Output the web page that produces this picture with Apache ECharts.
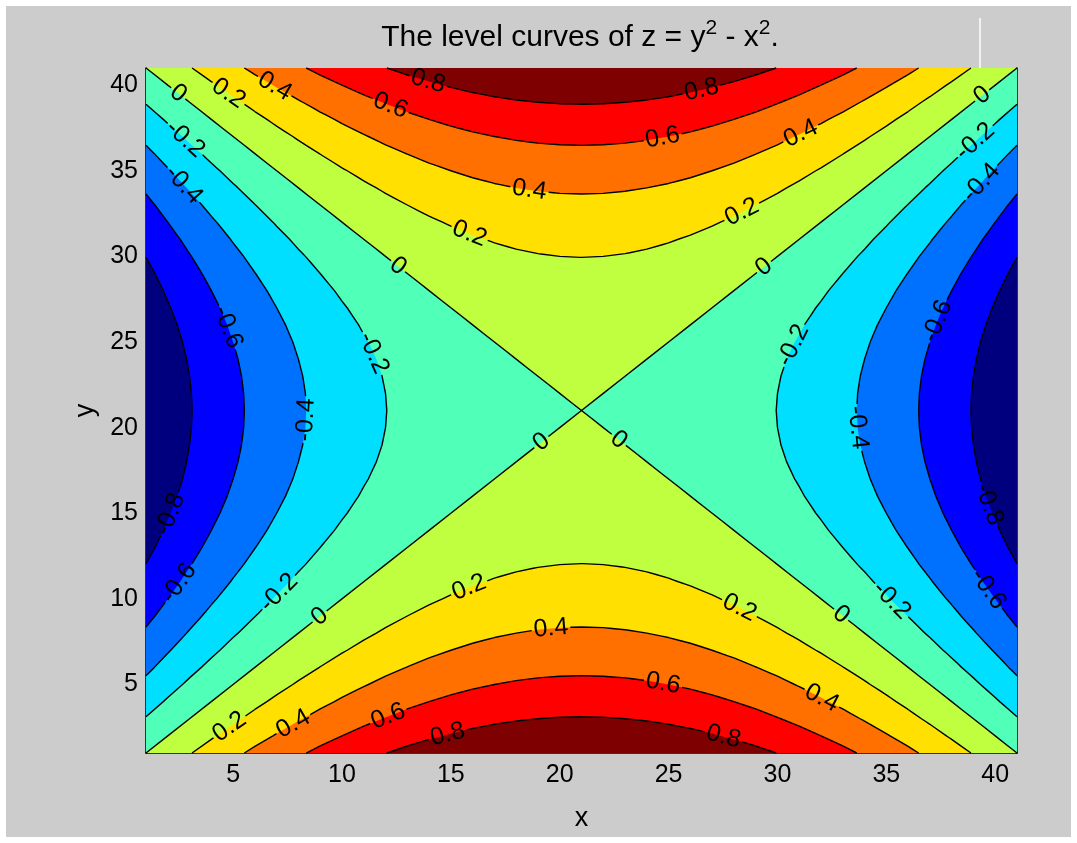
<!DOCTYPE html>
<html>
<head>
<meta charset="utf-8">
<title>Level curves of z = y^2 - x^2</title>
<script src="https://cdn.jsdelivr.net/npm/echarts@6/dist/echarts.min.js"></script>
<style>
  html, body { margin: 0; padding: 0; background: #ffffff; }
  #chart { width: 1077px; height: 843px; }
</style>
</head>
<body>
<div id="chart"></div>
<script>
// Sample coordinates of the surface (same for x and y); plotted on index axes 1..41
const gridCoords = [
  -1, -0.95, -0.9, -0.85, -0.8, -0.75, -0.7, -0.65, -0.6, -0.55,
  -0.5, -0.45, -0.4, -0.35, -0.3, -0.25, -0.2, -0.15, -0.1, -0.05,
  0,
  0.05, 0.1, 0.15, 0.2, 0.25, 0.3, 0.35, 0.4, 0.45, 0.5,
  0.55, 0.6, 0.65, 0.7, 0.75, 0.8, 0.85, 0.9, 0.95, 1
];
const indexTicks = [5, 10, 15, 20, 25, 30, 35, 40];
const contourLevels = [-0.8, -0.6, -0.4, -0.2, 0, 0.2, 0.4, 0.6, 0.8];
const bandColors = ['#00007f', '#0000ff', '#0070ff', '#00dfff', '#50ffb8',
                    '#bfff40', '#ffe000', '#ff7000', '#ff0000', '#7f0000'];
// Inline contour labels: [level, x index, y index]
const labelAnchors = [
  [0, 2.38, 39.42], [0.2, 4.76, 39.48], [0.4, 6.83, 39.83], [0.8, 13.94, 40.18],
  [0.6, 12.19, 38.72], [0.4, 18.61, 33.88], [0.2, 15.82, 31.25], [0, 12.47, 29.32],
  [0.8, 26.55, 39.6], [0.6, 24.76, 36.8], [0.4, 31.05, 37.2], [0.2, 28.29, 32.71],
  [0, 29.44, 29.32], [0, 39.44, 39.36], [-0.2, 39.12, 36.68], [-0.4, 39.3, 34.34],
  [-0.2, 2.74, 36.8], [-0.4, 2.7, 34.17], [-0.6, 4.62, 25.82], [-0.2, 11.28, 24.3],
  [-0.4, 8.43, 20.45], [-0.6, 37.47, 26.17], [-0.2, 30.82, 24.77], [-0.4, 33.43, 19.98],
  [0, 19.21, 19.1], [0, 22.65, 19.22], [-0.8, 2.24, 14.9], [-0.8, 39.53, 15.48],
  [-0.6, 2.7, 10.81], [-0.6, 39.49, 10.46], [-0.2, 7.42, 10.11], [0, 9.12, 8.82],
  [0.2, 15.91, 10.52], [0.4, 19.62, 8.07], [0.2, 28.29, 9.53], [-0.2, 34.9, 9.64],
  [0, 32.79, 8.94], [0.6, 24.72, 4.97], [0.4, 31.96, 4.09], [0.8, 27.51, 1.93],
  [0.6, 12.15, 3.1], [0.4, 7.93, 2.46], [0.2, 4.99, 2.34], [0.8, 14.9, 1.93]
];

const FONT = '"Liberation Sans", Arial, Helvetica, sans-serif';
const LABEL_SIZE = 25;

// z = y^2 - x^2 evaluated on the sample grid; rows follow y, columns follow x
function surface(u, v) { return v * v - u * u; }
const n = gridCoords.length;
const Z = gridCoords.map(v => gridCoords.map(u => surface(u, v)));
const indexToCoord = i => gridCoords[0] + (i - 1) * (gridCoords[n - 1] - gridCoords[0]) / (n - 1);

// Each grid cell split into two triangles: [x, y, z]
function buildTriangles() {
  const tris = [];
  for (let j = 0; j < n - 1; j++) {
    for (let i = 0; i < n - 1; i++) {
      const p00 = [i + 1, j + 1, Z[j][i]];
      const p10 = [i + 2, j + 1, Z[j][i + 1]];
      const p01 = [i + 1, j + 2, Z[j + 1][i]];
      const p11 = [i + 2, j + 2, Z[j + 1][i + 1]];
      tris.push([p00, p10, p11], [p00, p11, p01]);
    }
  }
  return tris;
}

// Keep the part of a polygon where z >= c
function clipAbove(poly, c) {
  const out = [];
  for (let k = 0; k < poly.length; k++) {
    const a = poly[k], b = poly[(k + 1) % poly.length];
    const ina = a[2] >= c, inb = b[2] >= c;
    if (ina) out.push(a);
    if (ina !== inb) {
      const t = (c - a[2]) / (b[2] - a[2]);
      out.push([a[0] + t * (b[0] - a[0]), a[1] + t * (b[1] - a[1]), c]);
    }
  }
  return out;
}

// Segment of the level curve z = c inside one triangle
function triSegment(tri, c) {
  const pts = [];
  for (let k = 0; k < 3; k++) {
    const a = tri[k], b = tri[(k + 1) % 3];
    const ina = a[2] >= c, inb = b[2] >= c;
    if (ina !== inb) {
      const t = (c - a[2]) / (b[2] - a[2]);
      pts.push([a[0] + t * (b[0] - a[0]), a[1] + t * (b[1] - a[1])]);
    }
  }
  if (pts.length !== 2) return null;
  if (Math.abs(pts[0][0] - pts[1][0]) < 1e-9 && Math.abs(pts[0][1] - pts[1][1]) < 1e-9) return null;
  return pts;
}

// Remove the part of a pixel segment lying inside a circle
function cutCircle(seg, cx, cy, r) {
  const A = seg[0], B = seg[1];
  const dx = B[0] - A[0], dy = B[1] - A[1];
  const fx = A[0] - cx, fy = A[1] - cy;
  const a = dx * dx + dy * dy;
  const b = 2 * (dx * fx + dy * fy);
  const c = fx * fx + fy * fy - r * r;
  const disc = b * b - 4 * a * c;
  if (a === 0 || disc <= 0) return [seg];
  const s = Math.sqrt(disc);
  const t1 = (-b - s) / (2 * a), t2 = (-b + s) / (2 * a);
  if (t2 <= 0 || t1 >= 1) return [seg];
  const res = [];
  if (t1 > 0) res.push([A, [A[0] + t1 * dx, A[1] + t1 * dy]]);
  if (t2 < 1) res.push([[A[0] + t2 * dx, A[1] + t2 * dy], B]);
  return res;
}

// Value and gradient of the surface in index units
function evalIndex(x, y) {
  const u = indexToCoord(x), v = indexToCoord(y);
  const h = 1e-4;
  const f = surface(u, v);
  const gx = (surface(indexToCoord(x + h), v) - surface(indexToCoord(x - h), v)) / (2 * h);
  const gy = (surface(u, indexToCoord(y + h)) - surface(u, indexToCoord(y - h))) / (2 * h);
  return { f, gx, gy };
}

// Move an anchor onto its level curve
function snapToLevel(x, y, c) {
  for (let k = 0; k < 12; k++) {
    const e = evalIndex(x, y);
    const g2 = e.gx * e.gx + e.gy * e.gy;
    if (g2 < 1e-12) break;
    const step = (e.f - c) / g2;
    x -= step * e.gx;
    y -= step * e.gy;
  }
  return [x, y];
}

const measureCtx = document.createElement('canvas').getContext('2d');
function textWidth(str) {
  measureCtx.font = LABEL_SIZE + 'px ' + FONT;
  return measureCtx.measureText(str).width;
}
const levelText = c => (Math.abs(c) < 1e-12 ? '0' : String(c));

const triangles = buildTriangles();

function renderContours(params, api) {
  const children = [];
  const px = p => api.coord([p[0], p[1]]);
  const f2 = v => v.toFixed(2);

  // filled bands, painted from the lowest level upward
  const xMin = 1, xMax = n, yMin = 1, yMax = n;
  const rect = [[xMin, yMin], [xMax, yMin], [xMax, yMax], [xMin, yMax]].map(px);
  children.push({
    type: 'path',
    shape: { pathData: 'M' + rect.map(p => f2(p[0]) + ' ' + f2(p[1])).join(' L') + ' Z' },
    style: { fill: bandColors[0], stroke: null }
  });
  contourLevels.forEach((lev, k) => {
    let d = '';
    triangles.forEach(tri => {
      const poly = clipAbove(tri, lev);
      if (poly.length < 3) return;
      d += 'M' + poly.map(p => { const q = px(p); return f2(q[0]) + ' ' + f2(q[1]); }).join(' L') + ' Z ';
    });
    if (d) {
      children.push({ type: 'path', shape: { pathData: d }, style: { fill: bandColors[k + 1], stroke: null } });
    }
  });

  // labels placed on their curves, oriented along the tangent
  const labels = labelAnchors.map(a => {
    const lev = a[0];
    const p = snapToLevel(a[1], a[2], lev);
    const e = evalIndex(p[0], p[1]);
    const gl = Math.hypot(e.gx, e.gy) || 1;
    const tx = -e.gy / gl, ty = e.gx / gl;
    const p0 = px(p);
    const p1 = px([p[0] + tx * 0.05, p[1] + ty * 0.05]);
    let ang = Math.atan2(-(p1[1] - p0[1]), p1[0] - p0[0]);
    if (ang > Math.PI / 2) ang -= Math.PI;
    if (ang <= -Math.PI / 2) ang += Math.PI;
    const txt = levelText(lev);
    return { lev, x: p0[0], y: p0[1], ang, txt, r: textWidth(txt) / 2 + 2 };
  });

  // contour lines, broken where a label sits
  let lines = '';
  contourLevels.forEach(lev => {
    const own = labels.filter(l => Math.abs(l.lev - lev) < 1e-9);
    triangles.forEach(tri => {
      const s = triSegment(tri, lev);
      if (!s) return;
      let pieces = [[px(s[0]), px(s[1])]];
      own.forEach(l => {
        let next = [];
        pieces.forEach(pc => { next = next.concat(cutCircle(pc, l.x, l.y, l.r)); });
        pieces = next;
      });
      pieces.forEach(pc => {
        lines += 'M' + f2(pc[0][0]) + ' ' + f2(pc[0][1]) + ' L' + f2(pc[1][0]) + ' ' + f2(pc[1][1]) + ' ';
      });
    });
  });
  children.push({
    type: 'path',
    shape: { pathData: lines },
    style: { fill: 'none', stroke: '#000000', lineWidth: 1.4 }
  });

  labels.forEach(l => {
    children.push({
      type: 'text',
      x: l.x, y: l.y,
      rotation: l.ang,
      style: {
        text: l.txt,
        fontSize: LABEL_SIZE,
        fontFamily: FONT,
        fill: '#000000',
        align: 'center',
        verticalAlign: 'middle'
      }
    });
  });

  return { type: 'group', children };
}

const axisFont = { fontFamily: FONT, fontSize: 25, color: '#000000' };

const option = {
  backgroundColor: 'transparent',
  animation: false,
  title: {
    text: 'The level curves of z = y{s|2} - x{s|2}.',
    left: 580,
    top: 18,
    padding: 0,
    textAlign: 'center',
    textStyle: {
      fontFamily: FONT,
      fontSize: 30,
      fontWeight: 'normal',
      color: '#000000',
      lineHeight: 40,
      rich: {
        s: { fontFamily: FONT, fontSize: 21, lineHeight: 20, verticalAlign: 'top', color: '#000000' }
      }
    }
  },
  graphic: [
    { type: 'rect', z: -10, shape: { x: 6, y: 6, width: 1065, height: 831 }, style: { fill: '#cccccc' }, silent: true },
    { type: 'line', z: 10, shape: { x1: 980, y1: 18, x2: 980, y2: 68 }, style: { stroke: '#ffffff', lineWidth: 1.5 }, silent: true }
  ],
  grid: { left: 146, right: 60, top: 68, bottom: 90, containLabel: false, outerBoundsMode: 'none' },
  xAxis: {
    type: 'value',
    min: 1,
    max: 41,
    name: 'x',
    nameLocation: 'middle',
    nameGap: 52,
    nameTextStyle: { fontFamily: FONT, fontSize: 27, color: '#000000' },
    axisLine: { show: true, onZero: false, lineStyle: { color: '#000000', width: 1.5 } },
    axisTick: { show: false },
    splitLine: { show: false },
    axisLabel: Object.assign({ customValues: indexTicks, margin: 10 }, axisFont)
  },
  yAxis: [
    {
      type: 'value',
      min: 1,
      max: 41,
      name: 'y',
      nameLocation: 'middle',
      nameRotate: 90,
      nameGap: 45,
      nameTextStyle: { fontFamily: FONT, fontSize: 27, color: '#000000' },
      axisLine: { show: true, onZero: false, lineStyle: { color: '#000000', width: 1.5 } },
      axisTick: { show: false },
      splitLine: { show: false },
      axisLabel: Object.assign({ customValues: indexTicks, margin: 8 }, axisFont)
    },
    {
      type: 'value',
      min: 1,
      max: 41,
      position: 'right',
      axisLine: { show: true, onZero: false, lineStyle: { color: '#000000', width: 1.5 } },
      axisTick: { show: false },
      splitLine: { show: false },
      axisLabel: { show: false }
    }
  ],
  series: [{
    type: 'custom',
    coordinateSystem: 'cartesian2d',
    xAxisIndex: 0,
    yAxisIndex: 0,
    silent: true,
    renderItem: renderContours,
    data: [[1, 1]],
    z: 1
  }]
};

const chart = echarts.init(document.getElementById('chart'), null, { renderer: 'canvas' });
chart.setOption(option);
</script>
</body>
</html>
